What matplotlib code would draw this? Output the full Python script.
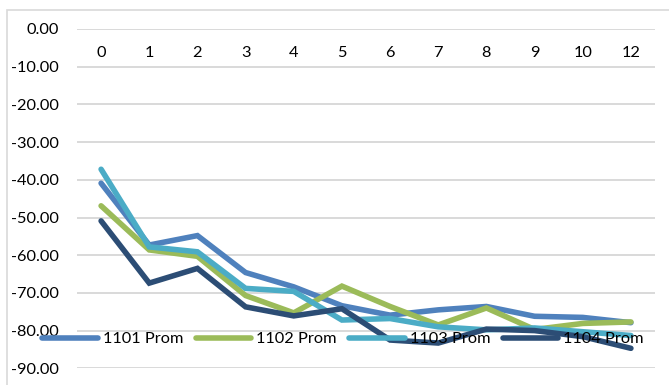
import matplotlib
matplotlib.use("Agg")
import matplotlib.pyplot as plt
from matplotlib.patches import Rectangle

categories = ["0", "1", "2", "3", "4", "5", "6", "7", "8", "9", "10", "12"]
s1101 = [-40.9, -57.3, -54.8, -64.6, -68.4, -73.4, -75.9, -74.5, -73.6, -76.2, -76.5, -77.9]
s1102 = [-46.9, -58.6, -60.3, -70.7, -75.3, -68.2, -73.6, -78.5, -74.0, -79.7, -78.1, -77.7]
s1103 = [-37.2, -57.8, -59.1, -68.8, -69.6, -77.2, -76.8, -79.0, -79.8, -79.3, -80.3, -81.3]
s1104 = [-50.9, -67.4, -63.5, -73.7, -76.1, -74.2, -82.5, -83.3, -79.6, -80.0, -81.6, -84.7]
series_names = ["1101 Prom", "1102 Prom", "1103 Prom", "1104 Prom"]
y_ticks = [0, -10, -20, -30, -40, -50, -60, -70, -80, -90]

colors = ["#4F81BD", "#9BBB59", "#4BACC6", "#2C4D75"]

plt.rcParams["font.family"] = ["Lato", "DejaVu Sans"]
FS = 11.8

W, H = 669, 385
fig = plt.figure(figsize=(W / 100, H / 100), dpi=100)
fig.patches.append(Rectangle((7 / W, -0.1), 1.2, 1 - 10 / H + 0.1,
                             transform=fig.transFigure, fill=False,
                             edgecolor="#D9D9D9", linewidth=1.2))

ax = fig.add_axes([77 / W, 1 - 368.3 / H, (655 - 77) / W, (368.3 - 29) / H])
x = list(range(len(categories)))
for vals, name, c in zip([s1101, s1102, s1103, s1104], series_names, colors):
    ax.plot(x, vals, color=c, linewidth=4.0, label=name,
            solid_capstyle="round", solid_joinstyle="miter")

ax.set_xlim(-0.5, len(categories) - 0.5)
ax.set_ylim(-90, 0)
ax.set_yticks(y_ticks)
ax.set_yticklabels([f"{v:.2f}" for v in y_ticks])
ax.set_xticks(x)
ax.set_xticklabels(categories)

for s in ax.spines.values():
    s.set_visible(False)
ax.spines["bottom"].set_position(("data", 0))
ax.grid(axis="y", color="#D9D9D9", linewidth=1.4)
ax.set_axisbelow(True)
ax.tick_params(axis="both", length=0, labelsize=FS, colors="black")
ax.tick_params(axis="y", pad=13)
ax.tick_params(axis="x", pad=12)

leg = fig.legend(loc="center left", bbox_to_anchor=(34 / W, 1 - 339 / H),
                 ncol=4, frameon=False, fontsize=FS, borderpad=0,
                 handlelength=3.4, handletextpad=0.3, columnspacing=0.75)
for line in leg.get_lines():
    line.set_linewidth(4.0)
    line.set_solid_capstyle("round")

fig.savefig("out.png", dpi=100)
